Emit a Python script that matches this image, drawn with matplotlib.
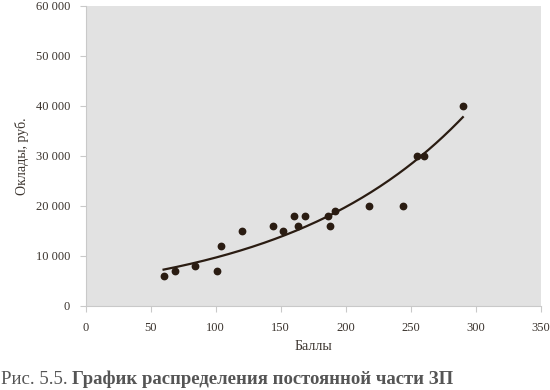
import matplotlib
matplotlib.use("Agg")
import matplotlib.pyplot as plt
import numpy as np

# Баллы / оклады (читается с графика)
balls = [60, 69, 84, 101, 104, 120, 144, 152, 160, 163, 169, 186, 188, 192, 218, 244, 255, 260, 290]
salaries = [6000, 7000, 8000, 7000, 12000, 15000, 16000, 15000, 18000, 16000, 18000,
            18000, 16000, 19000, 20000, 20000, 30000, 30000, 40000]

x_ticks = [0, 50, 100, 150, 200, 250, 300, 350]
y_ticks = [0, 10000, 20000, 30000, 40000, 50000, 60000]
y_tick_labels = ["0", "10 000", "20 000", "30 000", "40 000", "50 000", "60 000"]

TEXT = "#3b342e"
DOT = "#2a1c12"
GRID = "#c9c9c9"

plt.rcParams["font.family"] = ["Liberation Serif", "DejaVu Serif"]

fig = plt.figure(figsize=(5.5, 3.9), dpi=100)
ax = fig.add_axes([0.1555, 0.2162, 0.828, 0.7685])
ax.set_facecolor("#e2e2e2")

# точки
ax.plot(balls, salaries, "o", color=DOT, markersize=4.6, zorder=3)

# экспоненциальный тренд (как в Excel)
xb = np.array(balls, dtype=float)
k, b = np.polyfit(xb, np.log(salaries), 1)
xt = np.linspace(xb.min(), xb.max(), 200)
ax.plot(xt, np.exp(b + k * xt), color=DOT, lw=1.6, zorder=2)

ax.set_xlim(0, 350)
ax.set_ylim(0, 60000)
ax.set_xticks(x_ticks)
ax.set_yticks(y_ticks)
ax.set_yticklabels(y_tick_labels)

for s in ["top", "right"]:
    ax.spines[s].set_visible(False)
for s in ["left", "bottom"]:
    ax.spines[s].set_color(GRID)
    ax.spines[s].set_linewidth(0.8)
ax.tick_params(axis="both", colors=GRID, labelcolor=TEXT, labelsize=9, length=4, width=0.8)
ax.tick_params(axis="x", pad=8)
ax.tick_params(axis="y", pad=7)

ax.set_xlabel("Баллы", color=TEXT, fontsize=10, labelpad=4)
ax.set_ylabel("Оклады, руб.", color=TEXT, fontsize=10, labelpad=5)

# подпись рисунка: обычная часть + полужирная
fig.canvas.draw()
t1 = fig.text(0.002, 0.015, "Рис. 5.5. ", fontsize=13.5, color="#555555")
fig.canvas.draw()
bb = t1.get_window_extent()
fig.text(bb.x1 / fig.bbox.width, 0.015, "График распределения постоянной части ЗП",
         fontsize=13.5, fontweight="bold", color="#555555")

fig.savefig("out.png", dpi=100)
